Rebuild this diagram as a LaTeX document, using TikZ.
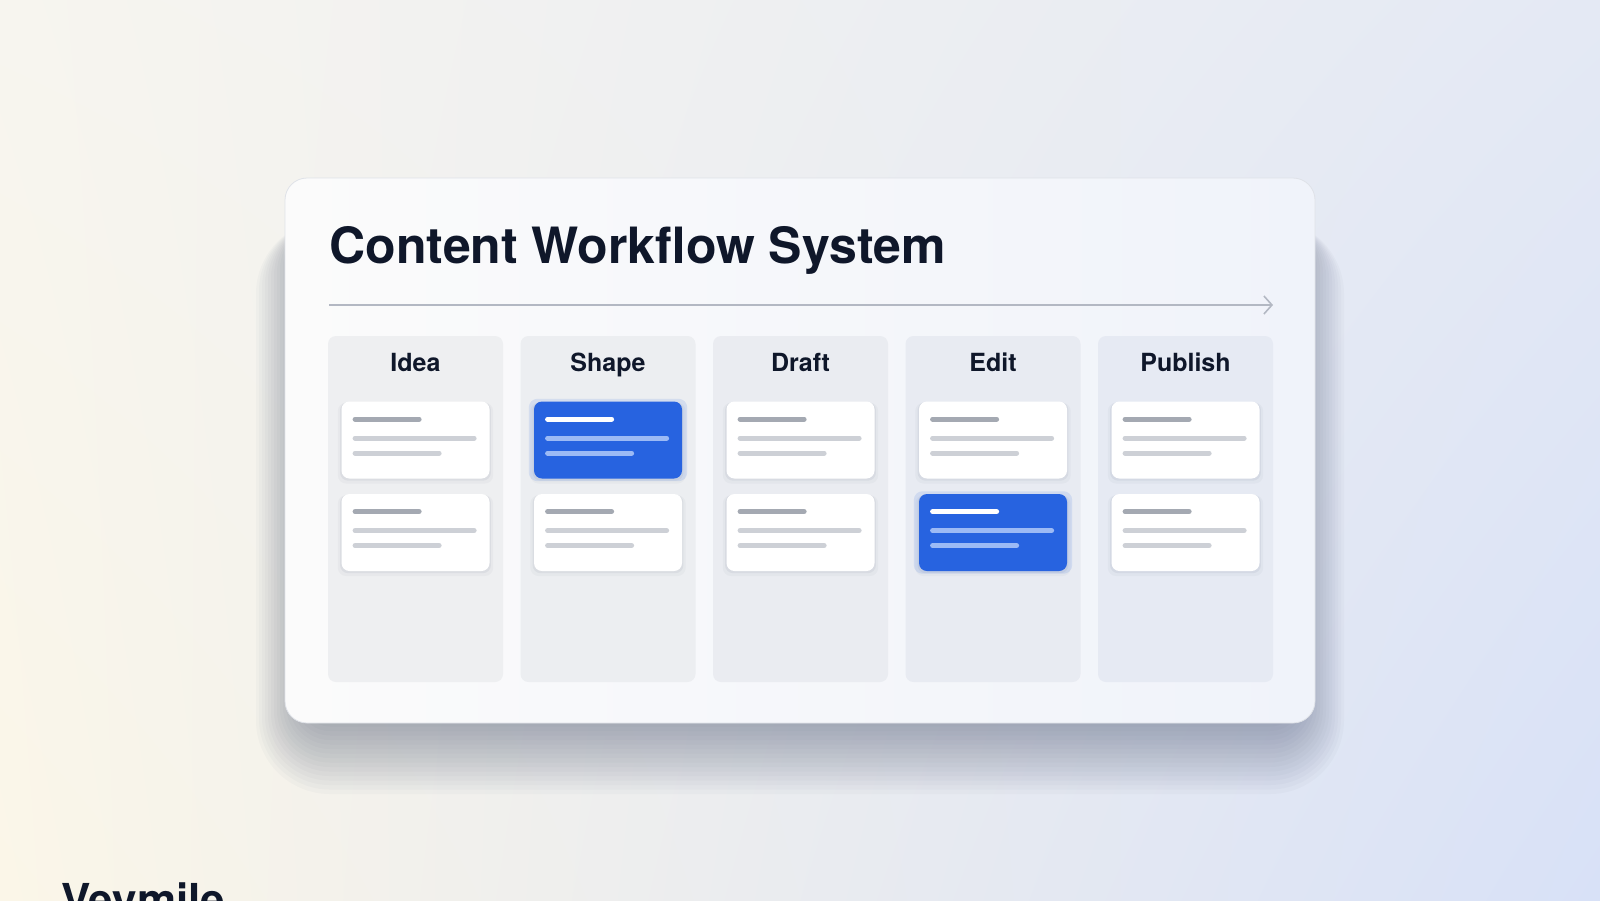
\documentclass[tikz,border=0pt]{standalone}
\usepackage{fontspec}
\setmainfont{TeX Gyre Heros}
\usetikzlibrary{arrows.meta}
\usetikzlibrary{calc}
\usetikzlibrary{shadings}
\usetikzlibrary{shadows}

\definecolor{ink}{HTML}{0F172A}
\definecolor{bgTL}{HTML}{F7F5EF}
\definecolor{bgBL}{HTML}{FBF6E8}
\definecolor{bgTR}{HTML}{E4E9F4}
\definecolor{bgBR}{HTML}{D8E1F7}
\definecolor{panelL}{HTML}{FBFBFB}
\definecolor{panelR}{HTML}{F0F3FA}
\definecolor{laneA}{HTML}{EEEFF1}
\definecolor{laneB}{HTML}{ECEEF1}
\definecolor{laneC}{HTML}{EAECF1}
\definecolor{laneD}{HTML}{E8EBF2}
\definecolor{laneE}{HTML}{E6EAF3}
\definecolor{cardblue}{HTML}{2763E0}
\definecolor{barDark}{HTML}{A4A9B2}
\definecolor{barLight}{HTML}{CDD0D6}
\definecolor{barBlue}{HTML}{9CBAF5}
\definecolor{flowgray}{HTML}{B3B8C3}
\definecolor{shadowc}{HTML}{4A5570}

\begin{document}
\begin{tikzpicture}[x=0.5pt,y=-0.5pt,
    panel/.style={rounded corners=11pt,left color=panelL,right color=panelR,
      draw=panelR!85!gray,line width=0.4pt,minimum width=515pt,minimum height=272.5pt},
    lane/.style={rounded corners=4pt,minimum width=87.5pt,minimum height=173pt,inner sep=0pt},
    head/.style={font=\bfseries\fontsize{12.5}{15}\selectfont,text=ink,inner sep=0pt},
    card/.style={fill=white,rounded corners=4pt,minimum width=74pt,minimum height=38.5pt,inner sep=0pt,
      general shadow={fill=shadowc,opacity=.04,shadow xshift=0pt,shadow yshift=-1.5pt,shadow scale=1.05},
      general shadow={fill=shadowc,opacity=.07,shadow xshift=0pt,shadow yshift=-0.7pt,shadow scale=1.02}},
    hot/.style={card,fill=cardblue,
      general shadow={fill=cardblue,opacity=.12,shadow xshift=0pt,shadow yshift=0pt,shadow scale=1.07}},
    card-top/.style={line width=2.5pt,line cap=round,draw=barDark},
    card-line/.style={line width=2.5pt,line cap=round,draw=barLight},
    hot-top/.style={line width=2.5pt,line cap=round,draw=white},
    hot-line/.style={line width=2.5pt,line cap=round,draw=barBlue},
    flow/.style={draw=flowgray,line width=0.8pt,-{Straight Barb[length=4pt,width=9pt]}}]
    \useasboundingbox (0,0) rectangle (1600,900);
    \clip (0,0) rectangle (1600,900);
    \shade[upper left=bgTL,lower left=bgBL,upper right=bgTR,lower right=bgBR] (0,0) rectangle (1600,900);

    % soft shadow under the board
    \foreach \k in {1,...,18}
      \fill[shadowc,opacity=0.032,rounded corners={10pt+1.5pt*\k}] ({310-3*\k},220) rectangle ({1290+3*\k},{713+4.5*\k});

    % board
    \node[panel] (board) at (800,450.5) {};
    \node[anchor=base west,inner sep=0pt,text=ink,font=\bfseries\fontsize{25}{30}\selectfont] (title) at (329,263) {Content Workflow System};
    \coordinate (flow-start) at (329,305);
    \coordinate (flow-end) at (1273,305);
    \draw[flow] (flow-start) -- (flow-end);

    % lanes and cards
    \foreach \name/\lbl/\fillc/\ka/\kb [count=\i from 0] in
      {idea/Idea/laneA/card/card, shape/Shape/laneB/hot/card, draft/Draft/laneC/card/card,
       edit/Edit/laneD/card/hot, publish/Publish/laneE/card/card}
    {
      \node[lane,fill=\fillc] (\name) at ({415.5+192.5*\i},509) {};
      \node[head,anchor=base] (\name-h) at ({415.5+192.5*\i},371) {\lbl};
      \node[\ka] (\name-a) at ({415.5+192.5*\i},440) {};
      \node[\kb] (\name-b) at ({415.5+192.5*\i},532.5) {};
      \foreach \c/\k in {a/\ka,b/\kb} {
        \draw[\k-top] ($(\name-\c.north west)+(14,18)$) -- ++(64,0);
        \draw[\k-line] ($(\name-\c.north west)+(14,37)$) -- ++(119,0);
        \draw[\k-line] ($(\name-\c.north west)+(14,52)$) -- ++(84,0);
      }
    }

    % brand, cut by the lower edge
    \node[anchor=base west,inner sep=0pt,text=ink,font=\bfseries\fontsize{22}{26}\selectfont] (brand) at (61,915) {Veymile};
\end{tikzpicture}
\end{document}
